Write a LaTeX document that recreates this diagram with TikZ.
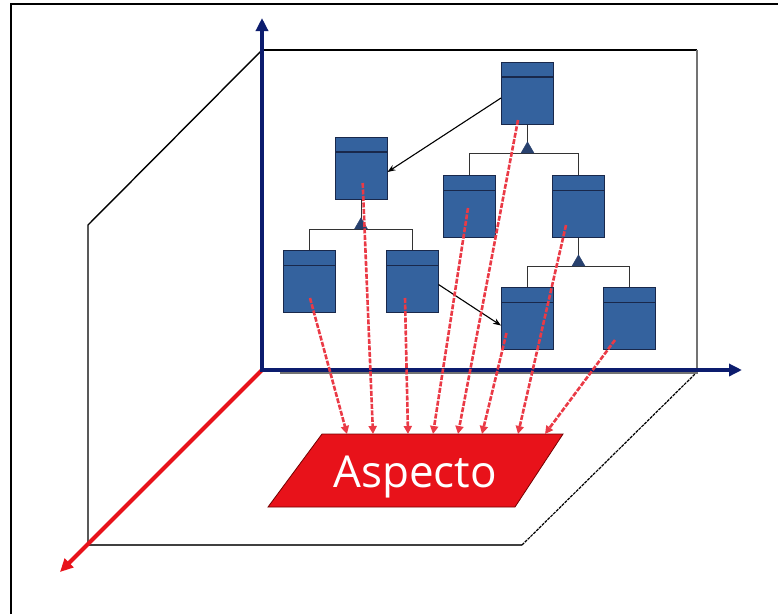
\documentclass[tikz,border=0pt]{standalone}
\usepackage{fontspec}
\newfontfamily\aspfont{Open Sans}
\usetikzlibrary{arrows.meta,shapes.geometric,calc}

\definecolor{clsblue}{RGB}{52,98,158}
\definecolor{clsline}{RGB}{25,40,75}
\definecolor{genblue}{RGB}{40,65,110}
\definecolor{axisblue}{RGB}{12,28,110}
\definecolor{asred}{RGB}{232,18,26}
\definecolor{dashred}{RGB}{234,58,70}

\tikzset{
  cls/.style={rectangle, draw=clsline, line width=1pt, fill=clsblue,
    minimum width=52pt, minimum height=62pt, inner sep=0pt,
    path picture={\draw[clsline, line width=1.2pt]
      ([yshift=-15pt]path picture bounding box.north west) --
      ([yshift=-15pt]path picture bounding box.north east);}},
  gen/.style={regular polygon, regular polygon sides=3, fill=genblue, draw=genblue,
    minimum size=15pt, inner sep=0pt, outer sep=0pt, anchor=south},
  tree/.style={draw=black!80, line width=0.9pt},
  assoc/.style={-{Stealth[length=8pt,width=6pt]}, line width=1.1pt, black},
  weave/.style={-{Triangle[length=8pt,width=8pt]}, dashred, line width=2.6pt,
    dash pattern=on 5pt off 1.5pt},
  axis/.style={line width=4pt, -{Triangle[length=13pt,width=12pt]}},
}

\begin{document}
\begin{tikzpicture}[x=1pt,y=-1pt]
    \useasboundingbox (0,0) rectangle (778,614);
    \draw[line width=2.5pt] (11,614) -- (11,4) -- (778,4);

    % walls and floor
    \coordinate (o) at (262,370);
    \draw[line width=1.4pt] (262,50) -- (88,225) -- (88,545);
    \draw[line width=1.4pt, black!75] (88,545) -- (522,545);
    \draw[line width=1.2pt, dash pattern=on 3pt off 1pt] (522,545) -- (697,372);
    \draw[line width=2pt] (262,50) -- (697,50);
    \draw[line width=1.5pt, black!55] (697,50) -- (697,373) -- (280,373);

    % axes
    \draw[axis, asred] (o) -- (60,572);
    \draw[axis, axisblue] ([yshift=-2pt]o) -- (262,18);
    \draw[axis, axisblue] ([xshift=-2pt]o) -- (742,370);

    % classes
    \node[cls] (top) at (527.5,93) {};
    \node[cls] (lmid) at (361,168) {};
    \node[cls] (mida) at (469,206.5) {};
    \node[cls] (midb) at (578.5,206.5) {};
    \node[cls] (bl1) at (309.5,281.5) {};
    \node[cls] (bl2) at (412,281.5) {};
    \node[cls] (br1) at (527.5,318.5) {};
    \node[cls] (br2) at (629.5,318.5) {};

    % inheritance
    \coordinate (g1) at (527.5,153);
    \coordinate (g2) at (361,229);
    \coordinate (g3) at (578.5,266);
    \draw[tree] (top.south) -- (g1);
    \draw[tree] (mida.north) -- (mida.north |- g1) -- (midb.north |- g1) -- (midb.north);
    \draw[tree] (lmid.south) -- (g2);
    \draw[tree] (bl1.north) -- (bl1.north |- g2) -- (bl2.north |- g2) -- (bl2.north);
    \draw[tree] (midb.south) -- (g3);
    \draw[tree] (br1.north) -- (br1.north |- g3) -- (br2.north |- g3) -- (br2.north);
    \node[gen] (t1) at (g1) {};
    \node[gen] (t2) at (g2) {};
    \node[gen] (t3) at (g3) {};

    % associations
    \draw[assoc] ([yshift=-5pt]top.west) -- ([yshift=-4pt]lmid.east);
    \draw[assoc] ([yshift=-3pt]bl2.east) -- ([yshift=-7pt]br1.west);

    % aspect
    \coordinate (p1) at (322,434);
    \coordinate (p2) at (563,434);
    \coordinate (p3) at (515,507);
    \coordinate (p4) at (268,507);
    \draw[fill=asred, draw=red!45!black, line width=0.8pt] (p1) -- (p2) -- (p3) -- (p4) -- cycle;
    \node[text=white, anchor=base, inner sep=0pt, font=\aspfont\fontsize{44}{44}\selectfont]
        (asp) at (415,487) {Aspecto};

    \foreach \i/\x in {1/347,2/373,3/408,4/433,5/458,6/482,7/518,8/545}
        \coordinate (e\i) at (\x,434);
    \draw[weave] ($(bl1)+(0.5,16.5)$) -- (e1);
    \draw[weave] ($(lmid)+(1.7,15)$) -- (e2);
    \draw[weave] ($(bl2)+(-7,16.5)$) -- (e3);
    \draw[weave] ($(mida)+(-1,1.5)$) -- (e4);
    \draw[weave] ($(top)+(-9.5,27)$) -- (e5);
    \draw[weave] ($(br1)+(-21,14.5)$) -- (e6);
    \draw[weave] ($(midb)+(-12.5,18.5)$) -- (e7);
    \draw[weave] ($(br2)+(-14.5,21.5)$) -- (e8);

\end{tikzpicture}
\end{document}
